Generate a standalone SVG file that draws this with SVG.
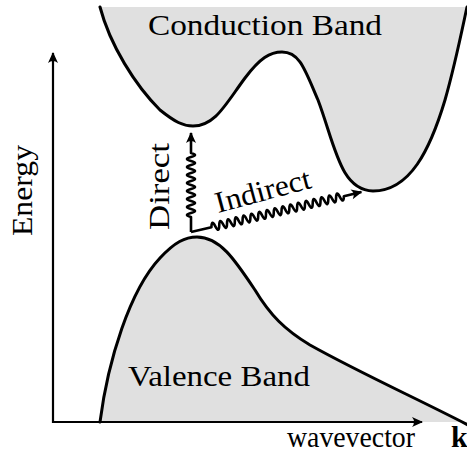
<svg xmlns="http://www.w3.org/2000/svg" width="467" height="456" viewBox="0 0 467 456">
<style>
.band{fill:#e0e0e0;stroke:#000;stroke-width:3;stroke-linejoin:round;stroke-linecap:round}
.axis{fill:none;stroke:#000;stroke-width:2.2}
.wave{fill:none;stroke:#000;stroke-width:2.6;stroke-linejoin:round}
.t{font-family:"Liberation Serif","Times New Roman",serif;font-size:30px;fill:#000}
</style>
<defs>
<marker id="ah" markerUnits="userSpaceOnUse" orient="auto" refX="0" refY="0" overflow="visible" markerWidth="12" markerHeight="10">
<path d="M1,0 L-10,-5 Q-6,0 -10,5 Z" fill="#000"/>
</marker>
</defs>
<rect width="467" height="456" fill="#fff"/>
<g id="conduction-band">
<path class="band" d="M100,7 C110,45 135,85 160,110 C175,122 183,126 193,126 C215,126 225,105 245,78 C260,58 270,52 282,52 C300,52 305,70 318,100 C335,145 340,190 373,191 C410,191 430,150 445,100 C455,65 462,30 467,7"/>
<text class="t" x="148" y="35" textLength="234" lengthAdjust="spacingAndGlyphs">Conduction Band</text>
</g>
<g id="valence-band">
<path class="band" d="M100,422 C108,360 130,290 160,258 C175,242 185,237 197,237 C220,237 235,260 255,290 C270,315 285,330 310,345 C360,373 420,400 470,426 L470,422"/>
<text class="t" x="128" y="386" textLength="182" lengthAdjust="spacingAndGlyphs">Valence Band</text>
</g>
<g id="axes">
<path class="axis" d="M53,423 V53" marker-end="url(#ah)"/>
<path class="axis" d="M53,422 H422" marker-end="url(#ah)"/>
<text class="t" transform="translate(32,236) rotate(-90)" textLength="91" lengthAdjust="spacingAndGlyphs">Energy</text>
<text class="t" x="287" y="447" textLength="128" lengthAdjust="spacingAndGlyphs">wavevector</text>
<text class="t" x="451" y="447" font-weight="bold">k</text>
</g>
<g id="connectors">
<path class="wave" transform="translate(191,232) rotate(-90)" marker-end="url(#ah)" d="M0,0 h15 q2,-8 4,0 q2,8 4,0 q2,-8 4,0 q2,8 4,0 q2,-8 4,0 q2,8 4,0 q2,-8 4,0 q2,8 4,0 q2,-8 4,0 q2,8 4,0 q2,-8 4,0 q2,8 4,0 q2,-8 4,0 q2,8 4,0 q2,-8 4,0 q2,8 4,0 h20"/>
<path class="wave" transform="translate(191,232) rotate(-13.2)" marker-end="url(#ah)" d="M0,0 h21 q2,-8 4,0 q2,8 4,0 q2,-8 4,0 q2,8 4,0 q2,-8 4,0 q2,8 4,0 q2,-8 4,0 q2,8 4,0 q2,-8 4,0 q2,8 4,0 q2,-8 4,0 q2,8 4,0 q2,-8 4,0 q2,8 4,0 q2,-8 4,0 q2,8 4,0 q2,-8 4,0 q2,8 4,0 q2,-8 4,0 q2,8 4,0 q2,-8 4,0 q2,8 4,0 q2,-8 4,0 q2,8 4,0 q2,-8 4,0 q2,8 4,0 q2,-8 4,0 q2,8 4,0 q2,-8 4,0 q2,8 4,0 q2,-8 4,0 q2,8 4,0 q2,-8 4,0 q2,8 4,0 h18"/>
<text class="t" transform="translate(169,230) rotate(-90)" textLength="87" lengthAdjust="spacingAndGlyphs">Direct</text>
<text class="t" transform="translate(218,213) rotate(-15)" textLength="98" lengthAdjust="spacingAndGlyphs">Indirect</text>
</g>
</svg>
